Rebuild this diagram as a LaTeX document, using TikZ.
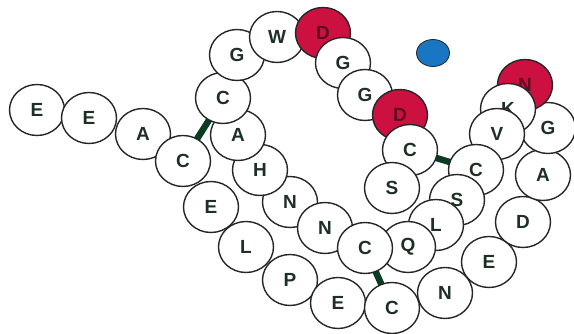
\documentclass[tikz,border=0pt]{standalone}
\usepackage{fontspec}
\setmainfont{Liberation Sans}
\usetikzlibrary{shapes.geometric}
\pgfdeclarelayer{background}
\pgfsetlayers{background,main}
\definecolor{ink}{RGB}{30,48,38}
\definecolor{rim}{RGB}{38,38,38}
\definecolor{acid}{RGB}{204,16,64}
\definecolor{acidtext}{RGB}{95,12,32}
\definecolor{bond}{RGB}{10,60,36}
\definecolor{ion}{RGB}{25,118,195}
\begin{document}
\begin{tikzpicture}[x=1pt,y=-1pt,
  res/.style={ellipse, draw=rim, line width=1.4pt, fill=white,
    minimum width=55pt, minimum height=51pt, inner sep=0pt,
    font=\fontsize{19}{19}\selectfont\bfseries, text=ink},
  hot/.style={res, fill=acid, text=acidtext},
  ssbond/.style={draw=bond, line width=6.5pt},
  calcium/.style={ellipse, draw=rim, line width=0.8pt, fill=ion,
    minimum width=33pt, minimum height=27pt, inner sep=0pt}]
\useasboundingbox (0,0) rectangle (574,334);

% residues along the chain
\node[res] (r1)  at (37,110)  {E};
\node[res] (r2)  at (89,118)  {E};
\node[res] (r3)  at (143,134) {A};
\node[res] (r4)  at (183,161) {C};
\node[res] (r5)  at (211,207) {E};
\node[res] (r6)  at (246,247) {L};
\node[res] (r7)  at (290,280) {P};
\node[res] (r8)  at (338,303) {E};
\node[res] (r9)  at (392,308) {C};
\node[res] (r10) at (445,293) {N};
\node[res] (r11) at (489,262) {E};
\node[res] (r12) at (523,222) {D};
\node[res] (r13) at (543,175) {A};
\node[res] (r14) at (548,128) {G};
\node[hot] (r15) at (525,85)  {N};
\node[res] (r16) at (508,109) {K};
\node[res] (r17) at (497,134) {V};
\node[res] (r18) at (476,170) {C};
\node[res] (r19) at (457,200) {S};
\node[res] (r20) at (436,225) {L};
\node[res] (r21) at (408,247) {Q};
\node[res] (r24) at (290,202) {N};
\node[res] (r23) at (325,228) {N};
\node[res] (r22) at (365,248) {C};
\node[res] (r25) at (260,170) {H};
\node[res] (r26) at (238,135) {A};
\node[res] (r27) at (223,98)  {C};
\node[res] (r28) at (237,55)  {G};
\node[res] (r29) at (277,37)  {W};
\node[hot] (r30) at (323,33)  {D};
\node[res] (r31) at (343,63)  {G};
\node[res] (r32) at (365,95)  {G};
\node[hot] (r33) at (400,115) {D};
\node[res] (r34) at (410,150) {C};
\node[res] (r35) at (392,188) {S};

% bound calcium ion
\node[calcium] (ca) at (433,53) {};

% disulfide bridges, behind the residues
\begin{pgfonlayer}{background}
  \draw[ssbond] (r4.center) -- (r27.center);
  \draw[ssbond] (r22.center) -- (r9.center);
  \draw[ssbond] (r34.center) -- (r18.center);
\end{pgfonlayer}
\end{tikzpicture}
\end{document}
